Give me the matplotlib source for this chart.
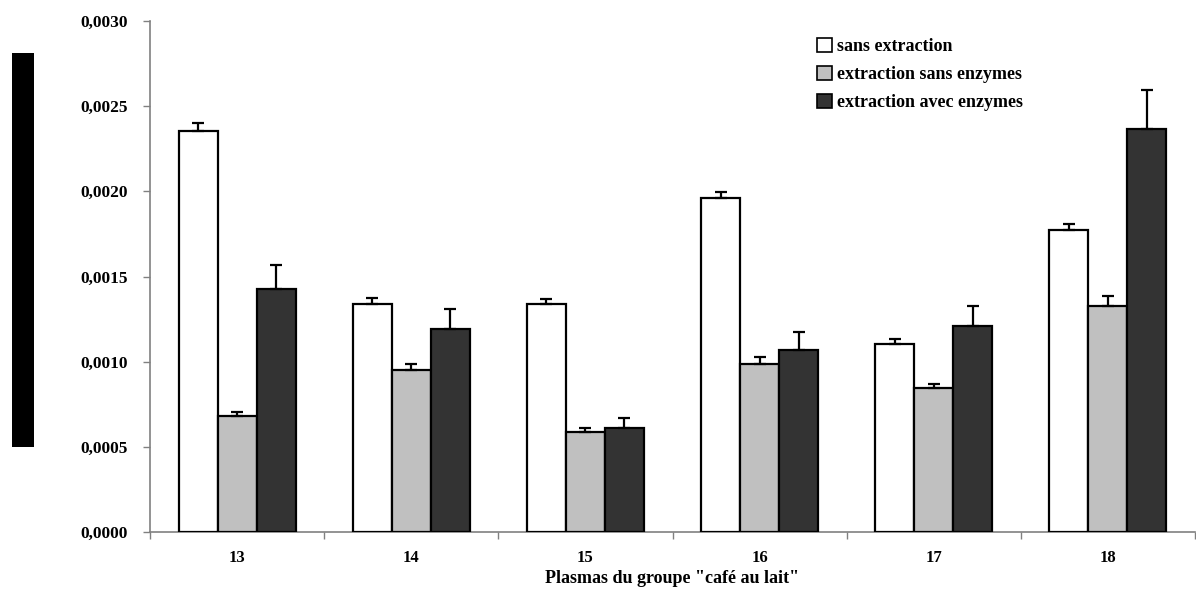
import matplotlib
matplotlib.use("Agg")
import matplotlib.pyplot as plt
import numpy as np
from matplotlib.patches import Rectangle

categories = ["13", "14", "15", "16", "17", "18"]
series_names = ["sans extraction", "extraction sans enzymes", "extraction avec enzymes"]
sans_extraction = [0.002352, 0.001340, 0.001340, 0.001963, 0.001106, 0.001775]
sans_extraction_err = [0.000050, 0.000035, 0.000026, 0.000033, 0.000025, 0.000035]
extr_sans_enz = [0.000683, 0.000951, 0.000589, 0.000988, 0.000847, 0.001329]
extr_sans_enz_err = [0.000023, 0.000037, 0.000023, 0.000038, 0.000024, 0.000059]
extr_avec_enz = [0.001425, 0.001190, 0.000612, 0.001070, 0.001211, 0.002366]
extr_avec_enz_err = [0.000140, 0.000117, 0.000059, 0.000106, 0.000117, 0.000230]
yticks = [0.0, 0.0005, 0.0010, 0.0015, 0.0020, 0.0025, 0.0030]
ytick_labels = ["0,0000", "0,0005", "0,0010", "0,0015", "0,0020", "0,0025", "0,0030"]
xlabel = 'Plasmas du groupe "café au lait"'

colors = ["#ffffff", "#c0c0c0", "#333333"]
values = [sans_extraction, extr_sans_enz, extr_avec_enz]
errs = [sans_extraction_err, extr_sans_enz_err, extr_avec_enz_err]

serif = ["Liberation Serif", "DejaVu Serif"]

fig = plt.figure(figsize=(11.96, 5.92), dpi=100)
ax = fig.add_axes([150/1196, 1-532/592, 1045/1196, 511/592])

x = np.arange(len(categories))
w = 0.224
for i, (vals, er, c, name) in enumerate(zip(values, errs, colors, series_names)):
    pos = x + (i - 1) * w
    ax.bar(pos, vals, width=w, color=c, edgecolor="black", linewidth=1.6, label=name, zorder=3)
    ax.errorbar(pos, vals, yerr=[np.zeros(len(er)), er], fmt="none", ecolor="black",
                elinewidth=1.6, capsize=4.5, capthick=1.6, zorder=4)

ax.set_xlim(-0.5, len(categories) - 0.5)
ax.set_ylim(0, 0.0030)
ax.set_yticks(yticks)
ax.set_yticklabels(ytick_labels, fontfamily=serif, fontweight="bold", fontsize=12.5)
ax.set_xticks(np.arange(len(categories) + 1) - 0.5)
ax.set_xticklabels([])
ax.set_xticks(x, minor=True)
ax.set_xticklabels(categories, minor=True, fontfamily=serif, fontweight="bold", fontsize=12)
ax.tick_params(axis="x", which="minor", length=0, pad=13)
ax.tick_params(axis="x", which="major", length=5, width=1, color="#808080", direction="out")
ax.tick_params(axis="y", length=5, width=1, color="#808080", direction="out", pad=11)
for s in ["top", "right"]:
    ax.spines[s].set_visible(False)
for s in ["left", "bottom"]:
    ax.spines[s].set_color("#808080")
    ax.spines[s].set_linewidth(1.2)

ax.set_xlabel(xlabel, fontfamily=serif, fontweight="bold", fontsize=13, labelpad=3)

leg = ax.legend(loc="upper left", bbox_to_anchor=(801/1196, 1-22/592), bbox_transform=fig.transFigure,
                frameon=False, handlelength=0.8, handleheight=0.8, handletextpad=0.3,
                labelspacing=0.6, prop={"family": serif, "weight": "bold", "size": 13})
for h in leg.legend_handles:
    h.set_linewidth(1.2)

# black vertical block at left (as in the reference)
fig.patches.append(Rectangle((12/1196, 1-447/592), 22/1196, 394/592, transform=fig.transFigure,
                             facecolor="black", edgecolor="none"))

fig.savefig("out.png", dpi=100)
